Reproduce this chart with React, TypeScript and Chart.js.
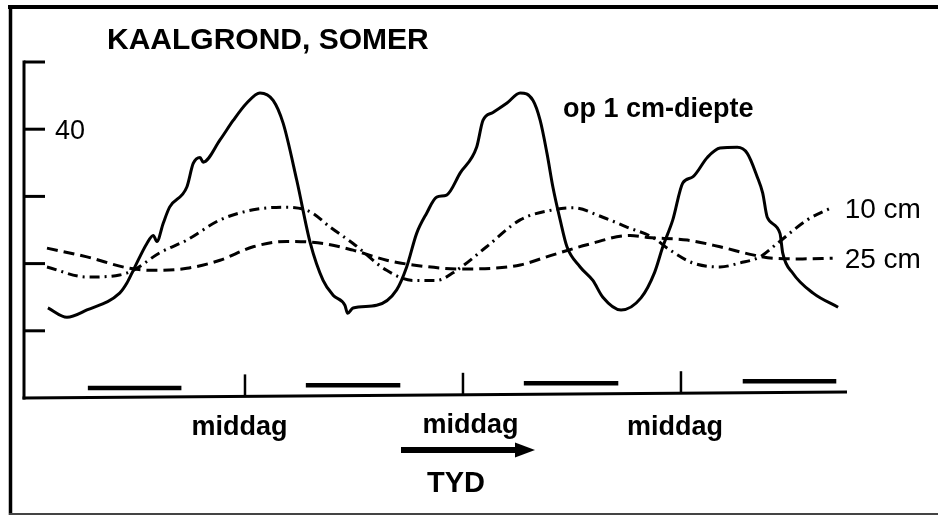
import React, { useEffect, useRef } from "react";
import { Chart, registerables } from "chart.js";

Chart.register(...registerables);

// ---- Data (hours from first midnight; temperature in °C) ----
const hours1cm = [-9.7, -7.6, -5.4, -1.8, -1.0, -0.3, 1.2, 1.9, 2.3, 3.0, 3.7, 5.6, 6.3, 7.05, 7.4, 9.25, 10.7, 12.2, 13.65, 15.1, 16.2, 17.7, 19.2, 20.6, 21.7, 23.0, 23.3, 23.9, 26.5, 28.7, 29.8, 30.9, 32.0, 33.1, 34.2, 35.7, 37.5, 38.2, 39.3, 40.85, 42.3, 43.7, 44.5, 45.25, 45.9, 46.7, 47.45, 48.9, 50.3, 51.4, 53.4, 55.6, 57.1, 58.0, 59.1, 60.2, 61.3, 62.9, 64.3, 66.2, 67.3, 68.4, 69.0, 69.5, 70.9, 71.2, 72.3, 74.55, 77.3];
const temp1cm = [13.4, 12.0, 13.1, 15.6, 17.1, 19.0, 23.0, 24.2, 23.3, 26.0, 28.4, 31.4, 34.9, 35.8, 35.1, 38.4, 41.3, 43.9, 45.4, 44.3, 40.9, 32.4, 23.0, 17.5, 15.3, 13.8, 12.6, 13.4, 13.8, 16.1, 19.5, 24.5, 27.5, 29.9, 30.2, 33.5, 37.3, 41.3, 42.5, 43.9, 45.4, 44.3, 41.3, 36.4, 31.4, 26.5, 22.5, 19.5, 17.5, 15.0, 13.1, 14.9, 18.7, 22.5, 26.5, 32.0, 32.9, 35.8, 37.2, 37.3, 36.4, 32.9, 30.5, 26.9, 24.5, 21.6, 18.6, 15.6, 13.5];

const hours10cm = [-9.8, -5.4, -1.8, -0.3, 2.6, 5.6, 9.25, 12.9, 16.6, 19.2, 21.4, 23.9, 27.6, 30.5, 33.1, 35.3, 38.6, 42.3, 45.9, 48.1, 51.4, 54.1, 56.9, 58.8, 61.3, 64.3, 66.5, 68.7, 70.6, 73.9, 76.7];
const temp10cm = [19.5, 18.0, 18.3, 19.0, 21.6, 23.5, 26.5, 28.0, 28.4, 27.7, 25.4, 23.0, 19.0, 17.5, 17.5, 19.0, 22.5, 26.5, 28.0, 28.3, 26.9, 25.4, 23.9, 22.0, 20.1, 19.5, 20.1, 21.0, 23.0, 26.5, 28.4];

const hours25cm = [-9.8, -5.4, -0.7, 1.9, 5.6, 9.25, 12.9, 16.6, 20.6, 23.9, 27.6, 30.5, 35.7, 39.3, 42.3, 45.9, 49.65, 54.4, 56.3, 60.7, 64.3, 67.9, 70.1, 73.4, 76.7];
const temp25cm = [22.3, 21.0, 19.3, 19.0, 19.3, 20.5, 22.5, 23.3, 23.0, 22.0, 20.5, 19.8, 19.2, 19.3, 19.8, 21.3, 22.8, 24.2, 23.9, 23.5, 22.5, 21.3, 20.8, 20.7, 20.8];

const nightStart = [-5.3, 18.7, 42.7, 66.8];
const nightEnd = [5.0, 29.1, 53.1, 77.1];
const nightLevel = [1.5, 1.9, 2.2, 2.5];

const noonHours = [12, 36, 60];
const noonLabels = ["middag", "middag", "middag"];

const yTickValues = [10, 20, 30, 40, 50];
const yTickLabels = ["", "", "", "40", ""];

const seriesLabels = ["op 1 cm-diepte", "10 cm", "25 cm"];
const titleText = "KAALGROND, SOMER";
const timeLabel = "TYD";

const FONT = '"Liberation Sans", Arial, Helvetica, sans-serif';

const toPoints = (xs: number[], ys: number[]) => xs.map((x, i) => ({ x, y: ys[i] }));

const nightPoints = nightStart.flatMap((s, i) => [
  { x: s, y: nightLevel[i] },
  { x: nightEnd[i], y: nightLevel[i] },
  { x: nightEnd[i] + 0.01, y: null as any },
]);

const decorPlugin = {
  id: "decor",
  beforeDraw(chart: any) {
    const ctx = chart.ctx;
    ctx.save();
    ctx.fillStyle = "#ffffff";
    ctx.fillRect(0, 0, chart.width, chart.height);
    ctx.restore();
  },
  afterDatasetsDraw(chart: any) {
    const ctx = chart.ctx;
    const xs = chart.scales.x;
    const ys = chart.scales.y;
    const x0 = xs.getPixelForValue(xs.min);
    const xr = xs.getPixelForValue(xs.max);
    const y0 = ys.getPixelForValue(0);
    const yr = y0 - 6;
    ctx.save();
    ctx.strokeStyle = "#000";
    ctx.lineCap = "butt";

    // y axis
    ctx.lineWidth = 3;
    ctx.beginPath();
    ctx.moveTo(x0, ys.getPixelForValue(50) - 1.5);
    ctx.lineTo(x0, y0 + 1.5);
    ctx.stroke();
    yTickValues.forEach((v) => {
      const py = ys.getPixelForValue(v);
      ctx.beginPath();
      ctx.moveTo(x0, py);
      ctx.lineTo(x0 + 21, py);
      ctx.stroke();
    });

    // x axis (slightly skewed like the scan)
    ctx.beginPath();
    ctx.moveTo(x0 - 1.5, y0);
    ctx.lineTo(xr, yr);
    ctx.stroke();

    // noon ticks
    ctx.lineWidth = 2.5;
    noonHours.forEach((h) => {
      const px = xs.getPixelForValue(h);
      const base = y0 + ((yr - y0) * (px - x0)) / (xr - x0);
      ctx.beginPath();
      ctx.moveTo(px, base);
      ctx.lineTo(px, base - 22);
      ctx.stroke();
    });
    ctx.restore();
  },
  afterDraw(chart: any) {
    const ctx = chart.ctx;
    const xs = chart.scales.x;
    const ys = chart.scales.y;
    const x0 = xs.getPixelForValue(xs.min);
    ctx.save();

    // frame
    ctx.strokeStyle = "#000";
    ctx.lineWidth = 4;
    ctx.beginPath();
    ctx.moveTo(8, 7);
    ctx.lineTo(938, 7);
    ctx.stroke();
    ctx.lineWidth = 3.5;
    ctx.beginPath();
    ctx.moveTo(10.5, 5);
    ctx.lineTo(10.5, 515);
    ctx.stroke();
    ctx.strokeStyle = "#444";
    ctx.lineWidth = 2;
    ctx.beginPath();
    ctx.moveTo(9, 514);
    ctx.lineTo(938, 514);
    ctx.stroke();

    ctx.fillStyle = "#000";
    ctx.textBaseline = "alphabetic";
    ctx.textAlign = "left";

    // title
    ctx.font = `bold 30px ${FONT}`;
    ctx.fillText(titleText, 107, 49);

    // y tick labels
    ctx.font = `27px ${FONT}`;
    yTickValues.forEach((v, i) => {
      if (!yTickLabels[i]) return;
      ctx.fillText(yTickLabels[i], x0 + 31, ys.getPixelForValue(v) + 10);
    });

    // series labels
    ctx.font = `bold 27px ${FONT}`;
    ctx.fillText(seriesLabels[0], 563, 117);
    ctx.font = `28px ${FONT}`;
    const end10 = hours10cm.length - 1;
    const end25 = hours25cm.length - 1;
    ctx.fillText(seriesLabels[1], xs.getPixelForValue(hours10cm[end10]) + 12, ys.getPixelForValue(temp10cm[end10]) + 11);
    ctx.fillText(seriesLabels[2], xs.getPixelForValue(hours25cm[end25]) + 12, ys.getPixelForValue(temp25cm[end25]) + 10);

    // noon labels
    ctx.font = `bold 27px ${FONT}`;
    ctx.textAlign = "center";
    const labelOffsets = [-5.5, 7.5, -6];
    const labelBase = [435, 433, 435];
    noonHours.forEach((h, i) => {
      ctx.fillText(noonLabels[i], xs.getPixelForValue(h) + labelOffsets[i], labelBase[i]);
    });

    // time arrow
    ctx.textAlign = "left";
    ctx.fillRect(401, 447, 118, 6);
    ctx.beginPath();
    ctx.moveTo(515, 442.5);
    ctx.lineTo(535, 450);
    ctx.lineTo(515, 457.5);
    ctx.closePath();
    ctx.fill();
    ctx.font = `bold 29px ${FONT}`;
    ctx.fillText(timeLabel, 427, 492);

    ctx.restore();
  },
};

export default function App() {
  const canvasRef = useRef<HTMLCanvasElement>(null);

  useEffect(() => {
    document.body.style.margin = "0";
    document.body.style.background = "#fff";
    const canvas = canvasRef.current!;
    const chart = new Chart(canvas, {
      type: "line",
      data: {
        datasets: [
          {
            label: seriesLabels[0],
            data: toPoints(hours1cm, temp1cm),
            borderColor: "#000",
            borderWidth: 3,
            pointRadius: 0,
            cubicInterpolationMode: "monotone",
            fill: false,
          },
          {
            label: seriesLabels[1],
            data: toPoints(hours10cm, temp10cm),
            borderColor: "#000",
            borderWidth: 3,
            borderDash: [10, 5, 2, 5],
            pointRadius: 0,
            cubicInterpolationMode: "monotone",
            fill: false,
          },
          {
            label: seriesLabels[2],
            data: toPoints(hours25cm, temp25cm),
            borderColor: "#000",
            borderWidth: 3,
            borderDash: [11, 6],
            pointRadius: 0,
            cubicInterpolationMode: "monotone",
            fill: false,
          },
          {
            label: "nag",
            data: nightPoints,
            borderColor: "#000",
            borderWidth: 4.5,
            pointRadius: 0,
            spanGaps: false,
            tension: 0,
            fill: false,
          },
        ],
      },
      options: {
        responsive: false,
        animation: false,
        events: [],
        layout: { padding: { left: 24, right: 91, top: 62, bottom: 117 } },
        plugins: {
          legend: { display: false },
          tooltip: { enabled: false },
          title: { display: false },
        },
        scales: {
          x: { type: "linear", min: -12.33, max: 78.28, display: false },
          y: { type: "linear", min: 0, max: 50, display: false },
        },
      },
      plugins: [decorPlugin],
    });
    return () => chart.destroy();
  }, []);

  return (
    <div style={{ width: 938, height: 515, background: "#fff" }}>
      <canvas ref={canvasRef} width={938} height={515} style={{ display: "block" }} />
    </div>
  );
}
